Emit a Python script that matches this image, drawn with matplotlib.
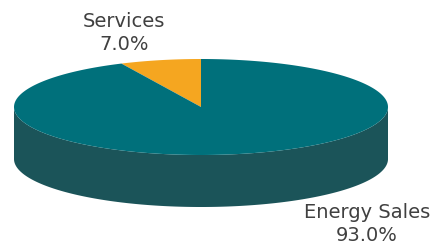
import numpy as np
import matplotlib
matplotlib.use("Agg")
from matplotlib import pyplot as plt
from matplotlib.patches import Polygon

labels = ["Energy Sales", "Services"]
shares = [93.0, 7.0]
top_colors = ["#00707B", "#F5A620"]
side_colors = ["#1B5459", "#B07814"]

# pie geometry in pixels
cx, cy = 201, 107
rx, ry = 187, 48
depth = 52

fig = plt.figure(figsize=[4.33, 2.46], dpi=100)
ax = fig.add_axes([0, 0, 1, 1])
ax.set_xlim(0, 433)
ax.set_ylim(246, 0)
ax.axis("off")

def pt(a, dy=0):
    return cx + rx * np.cos(a), cy - ry * np.sin(a) + dy

# slices run counterclockwise from 12 o'clock, Services first
order = [1, 0]
start = 90.0
bounds = {}
for i in order:
    sweep = shares[i] / sum(shares) * 360
    bounds[i] = (start, start + sweep)
    start += sweep

# side wall (front half only)
for i in order:
    a0, a1 = bounds[i]
    lo, hi = max(a0, 180), min(a1, 360)
    if hi <= lo:
        continue
    t = np.radians(np.linspace(lo, hi, 200))
    top = np.column_stack(pt(t))
    bot = np.column_stack(pt(t[::-1], depth))
    ax.add_patch(Polygon(np.vstack([top, bot]), closed=True,
                         facecolor=side_colors[i], edgecolor="none"))

# top face
for i in order:
    a0, a1 = bounds[i]
    t = np.radians(np.linspace(a0, a1, 300))
    arc = np.column_stack(pt(t))
    verts = np.vstack([[cx, cy], arc])
    ax.add_patch(Polygon(verts, closed=True, facecolor=top_colors[i],
                         edgecolor="none"))

txt = dict(fontsize=14, color="#404040", ha="center", va="center",
           family="DejaVu Sans", linespacing=1.25)
ax.text(124, 33, f"{labels[1]}\n{shares[1]:.1f}%", **txt)
ax.text(367, 224, f"{labels[0]}\n{shares[0]:.1f}%", **txt)

fig.savefig("out.png", dpi=100)
